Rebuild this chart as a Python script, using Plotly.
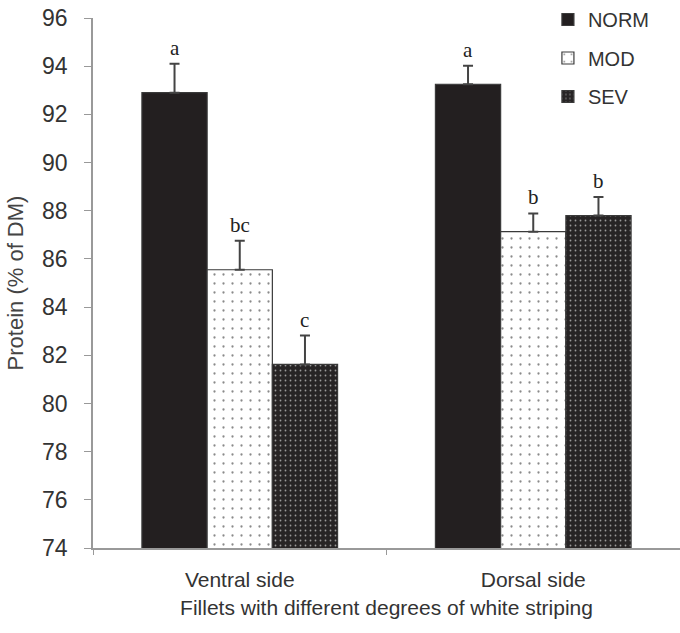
import plotly.graph_objects as go

categories = ["Ventral side", "Dorsal side"]
series_names = ["NORM", "MOD", "SEV"]
norm_vals = [92.9, 93.25]
mod_vals = [85.55, 87.13]
sev_vals = [81.62, 87.8]
norm_err = [1.2, 0.77]
mod_err = [1.2, 0.76]
sev_err = [1.2, 0.77]
norm_letters = ["a", "a"]
mod_letters = ["bc", "b"]
sev_letters = ["c", "b"]
y_ticks = [74, 76, 78, 80, 82, 84, 86, 88, 90, 92, 94, 96]

values = [norm_vals, mod_vals, sev_vals]
errors = [norm_err, mod_err, sev_err]
letters = [norm_letters, mod_letters, sev_letters]

line_col = "#3a3a3a"
patterns = [
    dict(shape=""),
    dict(shape=".", bgcolor="white", fgcolor="#8a8a8a", size=9, solidity=0.05, fillmode="replace"),
    dict(shape=".", bgcolor="#272425", fgcolor="#9a9a9a", size=5, solidity=0.1, fillmode="replace"),
]
colors = ["#231f20", "white", "#272425"]

fig = go.Figure()
for i, name in enumerate(series_names):
    fig.add_trace(go.Bar(
        name=name,
        x=categories,
        y=values[i],
        legendgroup=name,
        marker=dict(color=colors[i], line=dict(color=line_col, width=1.2), pattern=patterns[i]),
        error_y=dict(type="data", array=errors[i], arrayminus=[0] * len(categories),
                     symmetric=False, color="#444444", thickness=2, width=5),
    ))

n = len(series_names)
bargap = 1 / 3
bw = (1 - bargap) / n
for i in range(n):
    off = (i - (n - 1) / 2) * bw
    for j in range(len(categories)):
        fig.add_annotation(
            x=j + off, y=values[i][j] + errors[i][j], xref="x", yref="y",
            text=letters[i][j], showarrow=False, yanchor="bottom", yshift=2,
            font=dict(family="Liberation Serif", size=21, color="#222222"),
        )

fig.update_layout(
    width=680, height=633,
    margin=dict(l=93, r=0, t=18, b=85),
    paper_bgcolor="white", plot_bgcolor="white",
    barmode="group", bargap=bargap, bargroupgap=0,
    font=dict(family="Liberation Sans", color="#333333"),
    legend=dict(x=0.775, y=1.034, xanchor="left", yanchor="top", font=dict(size=20, color="#333333"),
                tracegroupgap=9.5, bgcolor="rgba(0,0,0,0)", itemwidth=30),
    showlegend=True,
)
fig.update_yaxes(
    range=[74, 96], tickvals=y_ticks, ticks="outside", ticklen=7, tickcolor="#999999",
    showline=True, linecolor="#999999", linewidth=1.5, showgrid=False, zeroline=False,
    tickfont=dict(size=23, color="#333333"), ticklabelstandoff=12,
    title=dict(text="Protein (% of DM)", font=dict(size=22, color="#444444"), standoff=12),
)
fig.update_xaxes(
    showline=True, linecolor="#999999", linewidth=1.5, ticks="outside", ticklen=5,
    tickcolor="#999999", tickson="boundaries", showgrid=False,
    tickfont=dict(size=21, color="#333333"), ticklabelstandoff=12,
    title=dict(text="Fillets with different degrees of white striping",
               font=dict(size=21, color="#333333"), standoff=10),
)

fig.write_html("out.html", config={"displayModeBar": False},
               post_script="document.body.style.margin='0';")
